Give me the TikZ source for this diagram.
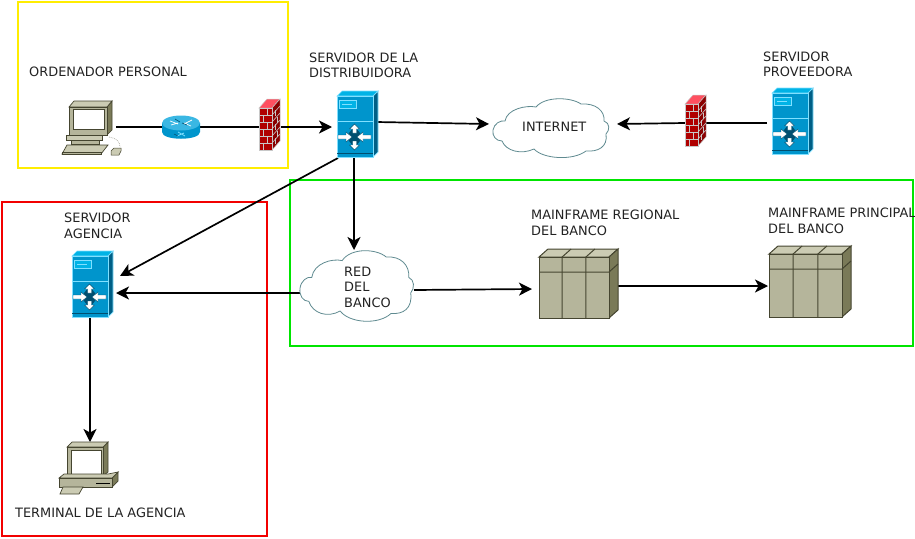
\documentclass[tikz,border=0pt]{standalone}
\usepackage{fontspec}
\setmainfont{DejaVu Sans}
\usetikzlibrary{arrows.meta,calc}
\definecolor{srvfront}{HTML}{0095CC}
\definecolor{srvside}{HTML}{005F86}
\definecolor{srvtop}{HTML}{00B3E6}
\definecolor{srvedge}{HTML}{80E0FF}
\definecolor{srvdark}{HTML}{004F70}
\definecolor{tan1}{HTML}{B5B59B}
\definecolor{tan2}{HTML}{CBCBB3}
\definecolor{tan3}{HTML}{7A7A58}
\definecolor{tanline}{HTML}{454530}
\definecolor{brick}{HTML}{B00000}
\definecolor{bricktop}{HTML}{FF5060}
\definecolor{brickside}{HTML}{8A0000}
\definecolor{mortar}{HTML}{C8C8C8}
\definecolor{cloudline}{HTML}{5F8A90}
\definecolor{labeltext}{HTML}{222222}
\tikzset{
  x=1pt,y=-1pt,
  box/.style 2 args={inner sep=0pt,outer sep=0pt,minimum width=#1 pt,minimum height=#2 pt},
  conn/.style={line width=1.7pt,black},
  arr/.style={conn,-{Stealth[length=13pt,width=13pt,inset=3.5pt]}},
  frame/.style={line width=1.4pt},
  lab/.style={anchor=west,align=left,inner sep=0pt,text=labeltext,font=\fontsize{12.9}{15.6}\selectfont},
  pics/srviconin/.style={code={
    \fill[srvtop,draw=srvedge,line width=.7pt] (0,0)--(5,-5)--(41,-5)--(36,0)--cycle;
    \fill[srvside,draw=srvedge,line width=.7pt] (36,0)--(41,-5)--(41,56)--(36,61)--cycle;
    \fill[srvfront,draw=srvedge,line width=.7pt] (0,0) rectangle (36,61);
    \fill[srvtop,draw=srvedge,line width=.6pt] (2,4) rectangle (19,12);
    \draw[srvedge,line width=.6pt] (5,8)--(15,8);
    \draw[srvedge,line width=.7pt] (0,25)--(36,25);
    \draw[srvdark,line width=.7pt] (0,57)--(36,57);
    \fill[srvdark] (17.5,30)--(26,41)--(17.5,52)--(9,41)--cycle;
    \fill[white,draw=srvdark,line width=.4pt] (15.5,37)--(15.5,33)--(12.5,33)--(17.5,28)--(22.5,33)--(19.5,33)--(19.5,37)--cycle;
    \fill[white,draw=srvdark,line width=.4pt] (15.5,45)--(15.5,49)--(12.5,49)--(17.5,54)--(22.5,49)--(19.5,49)--(19.5,45)--cycle;
    \fill[white,draw=srvdark,line width=.4pt] (1,39)--(9,39)--(9,36)--(15,41)--(9,46)--(9,43)--(1,43)--cycle;
    \fill[white,draw=srvdark,line width=.4pt] (34,39)--(26,39)--(26,36)--(20,41)--(26,46)--(26,43)--(34,43)--cycle;
  }},
  pics/fwicon/.style={code={
    \fill[bricktop,draw=mortar,line width=.5pt] (0,0)--(8,-9)--(21,-9)--(13,0)--cycle;
    \fill[brickside,draw=mortar,line width=.5pt] (13,0)--(21,-9)--(21,33)--(13,42)--cycle;
    \fill[brick,draw=mortar,line width=.5pt] (0,0) rectangle (13,42);
    \foreach \yy in {7,14,21,28,35} \draw[mortar,line width=.6pt] (0,\yy)--(13,\yy);
    \foreach \yy/\xx in {0/8,7/4,14/8,21/4,28/8,35/4} \draw[mortar,line width=.6pt] (\xx,\yy)--(\xx,\yy+7);
    \foreach \yy in {7,14,21,28,35} \draw[mortar,line width=.6pt] (13,\yy)--(21,\yy-9);
    \foreach \yy/\xx in {3/16,10/18,17/16,24/18,31/16} \draw[mortar,line width=.6pt] (\xx,\yy-1)--(\xx,\yy+5);
  }},
  pics/routericon/.style={code={
    \fill[srvfront] (-19,-4) -- (-19,5) .. controls (-19,14) and (19,14) .. (19,5) -- (19,-4) -- cycle;
    \fill[srvfront!55!srvedge] (0,-4) ellipse[x radius=19,y radius=7.5];
    \draw[white,line width=.7pt] (-11,-6)--(-3,-3) (11,-7)--(3,-3) (-10,-2)--(-3,-4) (10,-1)--(3,-4);
    \draw[srvdark,line width=.6pt] (-6,-8)--(-1,-5) (6,-2)--(1,-4);
    \draw[srvedge,line width=.8pt] (-4,9)--(3,6) (-3,5)--(4,9);
    \draw[srvdark,line width=.5pt] (-7,7)--(-3,9);
  }},
  pics/pcicon/.style={code={
    \fill[tan3,draw=tanline,line width=.7pt] (38,0)--(43,-6)--(43,23)--(38,28)--cycle;
    \fill[tan2,draw=tanline,line width=.7pt] (0,0)--(5,-6)--(43,-6)--(38,0)--cycle;
    \fill[tan1,draw=tanline,line width=.7pt] (0,0) rectangle (38,28);
    \fill[white,draw=tanline,line width=.7pt] (4,2) rectangle (35,22);
    \fill[tan1,draw=tanline,line width=.7pt] (2,33) rectangle (30,37);
    \fill[tan2,draw=tanline,line width=.7pt] (-3,33)--(-3,28)--(33,28)--(33,33)--cycle;
    \fill[tan2,draw=tanline,line width=.7pt] (-2,38)--(39,38)--(32,47)--(-7,47)--cycle;
    \fill[tan1,draw=tanline,line width=.5pt] (-7,45) rectangle (32,47);
    \draw[tanline!40,line width=.8pt,densely dotted] (40,30) .. controls (47,31) and (51,34) .. (51,40);
    \fill[tan2,draw=tanline,line width=.5pt] (42,44)--(45,41)--(52,41)--(52,44)--(50,48)--(42,48)--cycle;
  }},
  pics/termicon/.style={code={
    \fill[tan3,draw=tanline,line width=.7pt] (36,0)--(41,-5)--(41,25)--(36,29)--cycle;
    \fill[tan2,draw=tanline,line width=.7pt] (0,0)--(5,-5)--(41,-5)--(36,0)--cycle;
    \fill[tan1,draw=tanline,line width=.7pt] (0,0) rectangle (36,29);
    \fill[white,draw=tanline,line width=.7pt] (4,3) rectangle (34,27);
    \fill[tan3,draw=tanline,line width=.7pt] (45,31)--(51,25)--(51,34)--(45,40)--cycle;
    \fill[tan2,draw=tanline,line width=.7pt] (-8,31)--(-3,27)--(41,27)--(51,25)--(45,31)--cycle;
    \fill[tan1,draw=tanline,line width=.7pt] (-8,31) rectangle (45,40);
    \fill[black] (29,35.5) rectangle (43,37);
    \fill[tan2,draw=tanline,line width=.7pt] (-4,40)--(16,40)--(12,47)--(-7,47)--cycle;
  }},
  pics/mainicon/.style 2 args={code={
    \pgfmathsetmacro\wd{#1}\pgfmathsetmacro\ht{#2}
    \fill[tan2,draw=tanline,line width=1pt] (0,0)--(9,-8)--(\wd+9,-8)--(\wd,0)--cycle;
    \fill[tan3,draw=tanline,line width=1pt] (\wd,0)--(\wd+9,-8)--(\wd+9,\ht-8)--(\wd,\ht)--cycle;
    \fill[tan1,draw=tanline,line width=1pt] (0,0) rectangle (\wd,\ht);
    \draw[tanline,line width=1pt] (0,15)--(\wd,15)--(\wd+9,7);
    \foreach \f in {.33,.67}{
      \draw[tanline,line width=1pt] (\f*\wd,\ht)--(\f*\wd,0)--(\f*\wd+9,-8);
    }
  }},
  pics/cloudicon/.style 2 args={code={
    \begin{scope}[xscale=#1,yscale=#2]
    \draw[cloudline,fill=white,line width=.8pt]
      (0,31) .. controls (1,25) and (7,21) .. (12,22)
      .. controls (14,10) and (33,6) .. (43,8)
      .. controls (52,-3) and (78,-2) .. (88,5)
      .. controls (103,4) and (112,12) .. (111,22)
      .. controls (117,24) and (117,31) .. (113,35)
      .. controls (115,48) and (105,53) .. (93,52)
      .. controls (80,62) and (50,60) .. (41,50)
      .. controls (28,56) and (13,52) .. (9,42)
      .. controls (3,42) and (-1,37) .. (0,31) -- cycle;
    \end{scope}
  }}
}
\begin{document}
\begin{tikzpicture}
\useasboundingbox (0,0) rectangle (915,538);
% connection boxes
\node[box={54}{54}] (pc) at (89,127) {};
\node[box={38}{24}] (router) at (181,127) {};
\node[box={22}{46}] (fwa) at (270,127) {};
\node[box={44}{72}] (srv) at (354,122) {};
\node[box={128}{58}] (inet) at (553,124) {};
\node[box={21}{46}] (fwb) at (695.5,123) {};
\node[box={46}{66}] (prov) at (790,123) {};
\node[box={52}{50}] (agencia) at (90,293) {};
\node[box={114}{86}] (red) at (357,293) {};
\node[box={86}{70}] (mainr) at (575,286) {};
\node[box={83}{70}] (mainp) at (809.5,286) {};
\node[box={59}{52}] (term) at (88.5,468) {};
% frames
\draw[frame,yellow!95!orange] (18,2) rectangle (288,168);
\draw[frame,green!90!black] (290,180) rectangle (913,346);
\draw[frame,red!95!black] (2,202) rectangle (267,536);
% connectors
\draw[conn] (pc.east) -- (router.west);
\draw[conn] (router.east) -- (fwa.west);
\draw[arr] (fwa.east) -- (fwa.east -| srv.west);
\draw[arr] (srv.east) -- (inet.west);
\draw[conn] (prov.west) -- (fwb.east);
\draw[arr] (fwb.west) -- (inet.east);
\draw[arr] (srv.south) -- (srv.south |- red.north);
\draw[arr] ([xshift=6pt]srv.south west) -- ([shift={(4pt,17pt)}]agencia.east);
\draw[arr] (red.west) -- (agencia.east);
\draw[arr] ([yshift=3pt]red.east) -- ([yshift=-3pt]mainr.west);
\draw[arr] (mainr.east) -- (mainp.west);
\draw[arr] (agencia.south) -- (agencia.south |- term.north);
% icons
\pic at (69,107) {pcicon};
\pic at (181,127) {routericon};
\pic at (259,108) {fwicon};
\pic at (337,96) {srviconin};
\pic at (493,99) {cloudicon={1}{1}};
\pic at (685,104) {fwicon};
\pic at (772,93) {srviconin};
\pic at (72,256) {srviconin};
\pic at (300,251) {cloudicon={.98}{1.2}};
\pic at (539,257) {mainicon={70}{61}};
\pic at (769,254) {mainicon={73}{63}};
\pic at (67,447) {termicon};
% labels
\node[lab] (lpc) at (29,72) {ORDENADOR PERSONAL};
\node[lab] (lsrv) at (309,65.5) {SERVIDOR DE LA\\DISTRIBUIDORA};
\node[lab] (lprov) at (763,64.5) {SERVIDOR\\PROVEEDORA};
\node[lab] (linet) at (522,127) {INTERNET};
\node[lab] (lred) at (344,287) {RED\\DEL\\BANCO};
\node[lab] (lmr) at (531,223) {MAINFRAME REGIONAL\\DEL BANCO};
\node[lab] (lmp) at (768,221) {MAINFRAME PRINCIPAL\\DEL BANCO};
\node[lab] (lag) at (64,226) {SERVIDOR\\AGENCIA};
\node[lab] (lterm) at (15,513) {TERMINAL DE LA AGENCIA};
\end{tikzpicture}
\end{document}
